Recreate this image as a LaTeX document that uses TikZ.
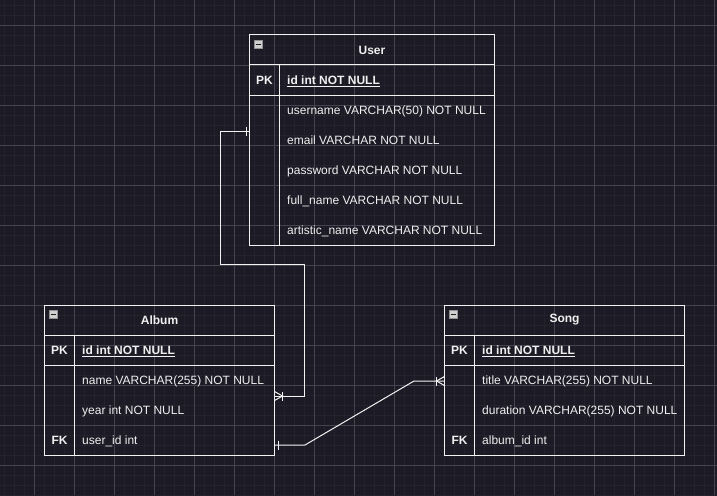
\documentclass[tikz,border=0pt]{standalone}
\usepackage{fontspec}
\setmainfont{Liberation Sans}
\setsansfont{Liberation Sans}
\usepackage{xcolor}
\usepackage{tikz}
\usetikzlibrary{calc,positioning}
\definecolor{erBg}{HTML}{1C1A24}
\definecolor{erGridMinor}{HTML}{25222D}
\definecolor{erGridMajor}{HTML}{46434F}
\definecolor{erLine}{HTML}{F2F2F2}
\definecolor{erText}{HTML}{F0F0F0}
\definecolor{erToggle}{HTML}{D0D0D0}
\definecolor{erToggleDark}{HTML}{1E1E1E}

\begin{document}
\begin{tikzpicture}[x=1pt, y=-1pt,
  every node/.style={font=\sffamily\fontsize{12}{14}\selectfont, text=erText},
  gridminor/.style={erGridMinor, line width=0.6pt},
  gridmajor/.style={erGridMajor, line width=0.6pt},
  tbl/.style={draw=erLine, line width=1pt},
  tblbox/.style={tbl, rectangle, anchor=north west, outer sep=0pt, inner sep=0pt},
  hdr/.style={tblbox, minimum height=30, font=\sffamily\bfseries\fontsize{12}{14}\selectfont},
  keytxt/.style={anchor=center, inner sep=0pt, text height=8.6pt, text depth=0pt,
    font=\sffamily\bfseries\fontsize{12}{14}\selectfont},
  fieldtxt/.style={anchor=west, inner sep=0pt, text height=8.6pt, text depth=0pt},
  pktxt/.style={fieldtxt, font=\sffamily\bfseries\fontsize{12}{14}\selectfont},
  toggle/.style={rectangle, fill=erToggle, draw=erToggle!70!black, line width=0.4pt,
    minimum size=8, inner sep=0pt},
  rel/.style={draw=erLine, line width=1pt},
]

% Canvas
\useasboundingbox (0,0) rectangle (717,495);
\fill[erBg] (0,0) rectangle (717,495);
\foreach \gx in {4,14,...,714} \draw[gridminor] (\gx,0) -- (\gx,495);
\foreach \gy in {5,15,...,495} \draw[gridminor] (0,\gy) -- (717,\gy);
\foreach \gx in {34,74,...,714} \draw[gridmajor] (\gx,0) -- (\gx,495);
\foreach \gy in {25,65,...,465} \draw[gridmajor] (0,\gy) -- (717,\gy);

% User table
\node[tblbox, minimum width=245, minimum height=210] (user) at (249.5,35) {};
\node[hdr, minimum width=245] (user-head) at (249.5,35) {User};
\draw[tbl] (249.5,95) -- (494.5,95);
\draw[tbl] (279.5,65) -- (279.5,245);
\node[toggle] (user-toggle) at (258,44.5)
  {\textcolor{erToggleDark}{\rule[-0.6pt]{5pt}{1.3pt}}};
\node[keytxt] (user-pk) at (264.5,80) {PK};
\node[pktxt] (user-id) at (287,80) {\underline{id int NOT NULL}};
\node[fieldtxt] (user-username) at (287,110) {username VARCHAR(50) NOT NULL};
\node[fieldtxt] (user-email) at (287,140) {email VARCHAR NOT NULL};
\node[fieldtxt] (user-password) at (287,170) {password VARCHAR NOT NULL};
\node[fieldtxt] (user-fullname) at (287,200) {full\_name VARCHAR NOT NULL};
\node[fieldtxt] (user-artistic) at (287,230) {artistic\_name VARCHAR NOT NULL};

% Album table
\node[tblbox, minimum width=230, minimum height=150] (album) at (44.5,305) {};
\node[hdr, minimum width=230] (album-head) at (44.5,305) {Album};
\draw[tbl] (44.5,365) -- (274.5,365);
\draw[tbl] (74.5,335) -- (74.5,455);
\node[toggle] (album-toggle) at (53,314.5)
  {\textcolor{erToggleDark}{\rule[-0.6pt]{5pt}{1.3pt}}};
\node[keytxt] (album-pk) at (59.5,350) {PK};
\node[pktxt] (album-id) at (82,350) {\underline{id int NOT NULL}};
\node[fieldtxt] (album-name) at (82,380) {name VARCHAR(255) NOT NULL};
\node[fieldtxt] (album-year) at (82,410) {year int NOT NULL};
\node[keytxt] (album-fk) at (59.5,440) {FK};
\node[fieldtxt] (album-userid) at (82,440) {user\_id int};

% Song table
\node[tblbox, minimum width=240, minimum height=150] (song) at (444.5,305) {};
\node[hdr, minimum width=240] (song-head) at (444.5,305) {Song};
\draw[tbl] (444.5,365) -- (684.5,365);
\draw[tbl] (474.5,335) -- (474.5,455);
\node[toggle] (song-toggle) at (453,314.5)
  {\textcolor{erToggleDark}{\rule[-0.6pt]{5pt}{1.3pt}}};
\node[keytxt] (song-pk) at (459.5,350) {PK};
\node[pktxt] (song-id) at (482,350) {\underline{id int NOT NULL}};
\node[fieldtxt] (song-title) at (482,380) {title VARCHAR(255) NOT NULL};
\node[fieldtxt] (song-duration) at (482,410) {duration VARCHAR(255) NOT NULL};
\node[keytxt] (song-fk) at (459.5,440) {FK};
\node[fieldtxt] (song-albumid) at (482,440) {album\_id int};

% Relations
\coordinate (userRef) at ($(user.north west)+(0,96)$);
\coordinate (albumOwner) at ($(album.north east)+(0,91)$);
\coordinate (albumUser) at ($(album.north east)+(0,140)$);
\coordinate (songAlbum) at ($(song.north west)+(0,76)$);

% User 1 -- n Album
\draw[rel] (userRef) -| (220.5,264) -| ($(albumOwner)+(29.5,0)$) -- (albumOwner);
\draw[rel] ($(userRef)+(-3,-4.5)$) -- ($(userRef)+(-3,4.5)$);
\draw[rel] ($(albumOwner)+(0,-4.5)$) -- ($(albumOwner)+(8,0)$) -- ($(albumOwner)+(0,4.5)$);
\draw[rel] ($(albumOwner)+(8,-4.5)$) -- ($(albumOwner)+(8,4.5)$);

% Album 1 -- n Song
\draw[rel] (albumUser) -- ++(30.5,0) -- (414,381) -- (songAlbum);
\draw[rel] ($(albumUser)+(4,-4.5)$) -- ($(albumUser)+(4,4.5)$);
\draw[rel] ($(songAlbum)+(0,-4.5)$) -- ($(songAlbum)+(-8,0)$) -- ($(songAlbum)+(0,4.5)$);
\draw[rel] ($(songAlbum)+(-8,-4.5)$) -- ($(songAlbum)+(-8,4.5)$);

\end{tikzpicture}
\end{document}
